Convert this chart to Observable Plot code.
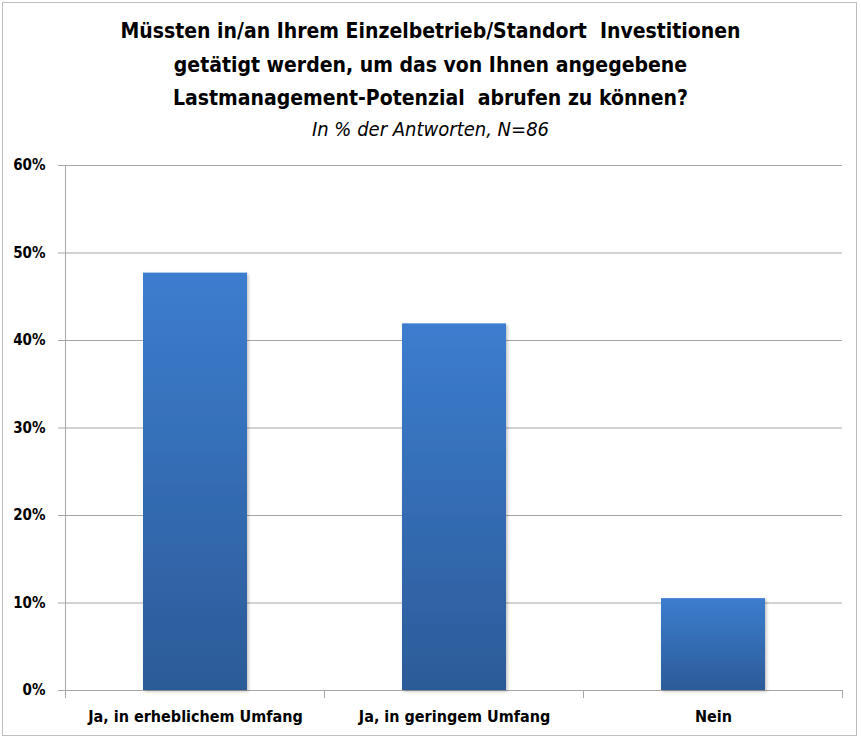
<!DOCTYPE html>
<html>
<head>
<meta charset="utf-8">
<script src="https://cdn.jsdelivr.net/npm/d3@7"></script>
<script src="https://cdn.jsdelivr.net/npm/@observablehq/plot@0.6"></script>
<style>
  html, body { margin: 0; padding: 0; background: #fff; }
  #frame { position: absolute; left: 2px; top: 2px; width: 855px; height: 734px; border: 1px solid #bdbdbd; box-sizing: border-box; }
  .t { position: absolute; left: 0; width: 861px; text-align: center; font-family: "Liberation Sans Narrow", "DejaVu Sans Condensed", sans-serif; color: #000; white-space: pre; }
  .b { font-weight: bold; font-size: 21px; }
  .i { font-style: italic; font-size: 20px; }
  #chart { position: absolute; left: 0; top: 150px; }
</style>
</head>
<body>
<div id="frame"></div>
<div class="t b" style="top:19px">Müssten in/an Ihrem Einzelbetrieb/Standort  Investitionen</div>
<div class="t b" style="top:53px">getätigt werden, um das von Ihnen angegebene</div>
<div class="t b" style="top:86px">Lastmanagement-Potenzial  abrufen zu können?</div>
<div class="t i" style="top:117px">In % der Antworten, N=86</div>
<div id="chart"></div>
<script>
const categories = ["Ja, in erheblichem Umfang", "Ja, in geringem Umfang", "Nein"];
const values = [47.7, 41.9, 10.5];
const yTicks = [0, 10, 20, 30, 40, 50, 60];
const data = categories.map((c, i) => ({category: c, value: values[i]}));

const plot = Plot.plot({
  width: 861,
  height: 589,
  marginTop: 15,
  marginBottom: 49,
  marginLeft: 65,
  marginRight: 19,
  style: {fontFamily: "'Liberation Sans Narrow', 'DejaVu Sans Condensed', sans-serif", overflow: "visible"},
  x: {domain: categories, paddingInner: 0.6, paddingOuter: 0.3, label: null},
  y: {domain: [0, 60], label: null},
  marks: [
    Plot.ruleY(yTicks, {stroke: "#a6a6a6", strokeWidth: 1, strokeOpacity: 1}),
    Plot.barY(data, {x: "category", y: "value", fill: "url(#barGrad)"}),
    Plot.axisY({ticks: yTicks, tickSize: 7, tickPadding: 13, stroke: "#a6a6a6", strokeOpacity: 1, tickFormat: d => d + "%", fontSize: 15, fontWeight: "bold", fill: "#000", label: null}),
    Plot.axisX({tickSize: 0, tickPadding: 20, fontSize: 16, fontWeight: "bold", fill: "#000", label: null})
  ]
});

const svg = d3.select(plot);
const defs = svg.insert("defs", ":first-child");
const g = defs.append("linearGradient").attr("id", "barGrad").attr("x1", 0).attr("y1", 0).attr("x2", 0).attr("y2", 1);
g.append("stop").attr("offset", "0%").attr("stop-color", "#3c7dcf");
g.append("stop").attr("offset", "100%").attr("stop-color", "#2c5b98");
const f = defs.append("filter").attr("id", "shadow").attr("x", "-10%").attr("y", "-10%").attr("width", "130%").attr("height", "130%");
f.append("feDropShadow").attr("dx", 1.5).attr("dy", 1.5).attr("stdDeviation", 1.5).attr("flood-color", "#000").attr("flood-opacity", 0.25);
svg.selectAll("g[fill='url(#barGrad)'] rect, rect[fill='url(#barGrad)']").attr("filter", "url(#shadow)");

// y-axis line and category boundary ticks, derived from the scales
const xs = plot.scale("x");
const ys = plot.scale("y");
const y0 = ys.apply(0);
const yTop = ys.apply(60);
const step = xs.step;
const bw = xs.bandwidth;
const bounds = categories.map(c => xs.apply(c) + bw / 2 - step / 2);
bounds.push(xs.apply(categories[categories.length - 1]) + bw / 2 + step / 2);
const tg = svg.append("g").attr("stroke", "#a6a6a6");
tg.append("line").attr("x1", bounds[0]).attr("x2", bounds[0]).attr("y1", yTop).attr("y2", y0);
bounds.forEach(b => tg.append("line").attr("x1", b).attr("x2", b).attr("y1", y0).attr("y2", y0 + 8));

document.getElementById("chart").appendChild(plot);
</script>
</body>
</html>
